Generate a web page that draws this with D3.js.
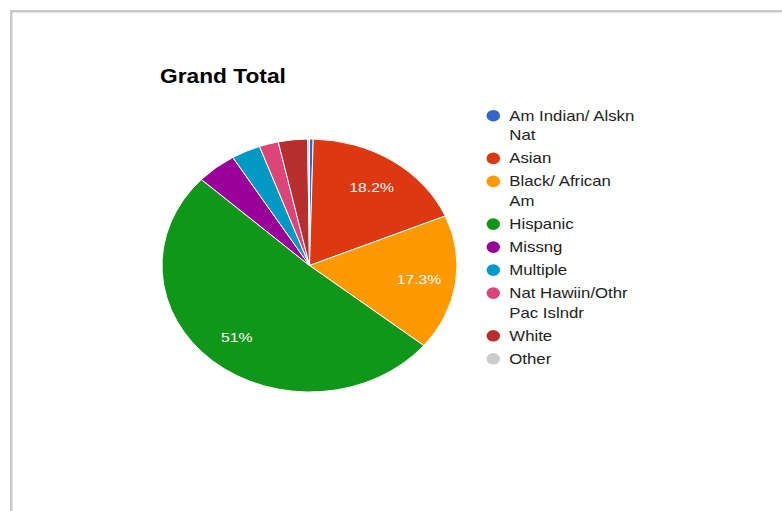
<!DOCTYPE html>
<html>
<head>
<meta charset="utf-8">
<script src="https://cdn.jsdelivr.net/npm/d3@7"></script>
<style>
  html, body { margin: 0; padding: 0; background: #fff; }
  svg { display: block; font-family: Arial, "Liberation Sans", sans-serif; }
</style>
</head>
<body>
<svg id="chart" width="782" height="511"></svg>
<script>
// ---- data ----
const title = "Grand Total";
const categories = ["Am Indian/ Alskn Nat", "Asian", "Black/ African Am", "Hispanic", "Missng", "Multiple", "Nat Hawiin/Othr Pac Islndr", "White", "Other"];
const legendLines = [["Am Indian/ Alskn", "Nat"], ["Asian"], ["Black/ African", "Am"], ["Hispanic"], ["Missng"], ["Multiple"], ["Nat Hawiin/Othr", "Pac Islndr"], ["White"], ["Other"]];
const values = [0.4, 18.2, 17.3, 51.0, 4.4, 3.2, 2.1, 3.2, 0.2];
const sliceLabels = ["", "18.2%", "17.3%", "51%", "", "", "", "", ""];
const colors = ["#3366cc", "#dc3912", "#ff9900", "#109618", "#990099", "#0099c6", "#dd4477", "#b82e2e", "#cccccc"];

// ---- layout ----
const sx = 1.166;           // horizontal stretch of the reference picture
const cx = 309.5, cy = 265.5, R = 126.5;

const svg = d3.select("#chart");

// frame border
svg.append("rect")
  .attr("x", 11.25).attr("y", 11.25)
  .attr("width", 900).attr("height", 700)
  .attr("fill", "none")
  .attr("stroke", "#c8c8c8")
  .attr("stroke-width", 2.5);

// title
svg.append("text")
  .attr("transform", `translate(160,83.3) scale(${sx},1)`)
  .attr("font-size", 19.5)
  .attr("font-weight", "bold")
  .attr("fill", "#000")
  .text(title);

// pie
const data = categories.map((c, i) => ({ cat: c, value: values[i], color: colors[i], label: sliceLabels[i] }));
const pie = d3.pie().sort(null).value(d => d.value);
const arcs = pie(data);
const arc = d3.arc().innerRadius(0).outerRadius(R);
const labelArc = d3.arc().innerRadius(R * 0.75).outerRadius(R * 0.75);

const g = svg.append("g").attr("transform", `translate(${cx},${cy}) scale(${sx},1)`);
g.selectAll("path.slice")
  .data(arcs)
  .join("path")
  .attr("class", "slice")
  .attr("d", arc)
  .attr("fill", d => d.data.color)
  .attr("stroke", "#ffffff")
  .attr("stroke-width", 1)
  .attr("vector-effect", "non-scaling-stroke");

svg.selectAll("text.slabel")
  .data(arcs.filter(d => d.data.label))
  .join("text")
  .attr("class", "slabel")
  .attr("transform", d => {
    const [x, y] = labelArc.centroid(d);
    return `translate(${cx + x * sx},${cy + y + 5}) scale(${sx},1)`;
  })
  .attr("text-anchor", "middle")
  .attr("font-size", 13.5)
  .attr("fill", "#ffffff")
  .text(d => d.data.label);

// legend
const lineGap = 19.7, itemGap = 23;
let yb = 120.7;
const legend = svg.append("g");
data.forEach((d, i) => {
  const item = legend.append("g");
  item.append("ellipse")
    .attr("cx", 493.3).attr("cy", yb - 5)
    .attr("rx", 5.8 * sx).attr("ry", 5.8)
    .attr("fill", d.color);
  legendLines[i].forEach((ln, j) => {
    item.append("text")
      .attr("transform", `translate(509.3,${yb + j * lineGap}) scale(${sx},1)`)
      .attr("font-size", 14.4)
      .attr("fill", "#222222")
      .text(ln);
  });
  yb += (legendLines[i].length - 1) * lineGap + itemGap;
});
</script>
</body>
</html>
